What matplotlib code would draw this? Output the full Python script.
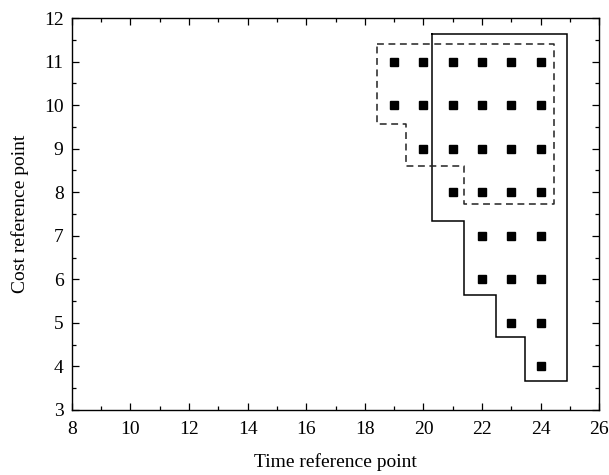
import matplotlib.pyplot as plt
from matplotlib.ticker import MultipleLocator

plt.rcParams["font.family"] = ["Liberation Serif", "DejaVu Serif"]

# reference points (time, cost)
time_points = [19, 20, 21, 22, 23, 24,
               19, 20, 21, 22, 23, 24,
               20, 21, 22, 23, 24,
               21, 22, 23, 24,
               22, 23, 24,
               22, 23, 24,
               23, 24,
               24]
cost_points = [11, 11, 11, 11, 11, 11,
               10, 10, 10, 10, 10, 10,
               9, 9, 9, 9, 9,
               8, 8, 8, 8,
               7, 7, 7,
               6, 6, 6,
               5, 5,
               4]

# solid region boundary
solid_x = [20.3, 24.9, 24.9, 23.47, 23.47, 22.49, 22.49, 21.39, 21.39, 20.3, 20.3]
solid_y = [11.63, 11.63, 3.66, 3.66, 4.67, 4.67, 5.65, 5.65, 7.34, 7.34, 11.63]

# dashed region boundary
dashed_x = [18.43, 24.45, 24.45, 21.38, 21.38, 19.42, 19.42, 18.43, 18.43]
dashed_y = [11.4, 11.4, 7.72, 7.72, 8.6, 8.6, 9.56, 9.56, 11.4]

fig = plt.figure(figsize=(6.09, 4.75), dpi=100)
ax = fig.add_axes([0.118, 0.137, 0.866, 0.825])

ax.plot(solid_x, solid_y, color="black", lw=1.1, solid_joinstyle="miter")
ax.plot(dashed_x, dashed_y, color="#222222", lw=1.1, dashes=(4.5, 3))
ax.plot(time_points, cost_points, ls="none", marker="s", ms=6.3,
        color="black")

ax.set_xlim(8, 26)
ax.set_ylim(3, 12)
ax.xaxis.set_major_locator(MultipleLocator(2))
ax.xaxis.set_minor_locator(MultipleLocator(1))
ax.yaxis.set_major_locator(MultipleLocator(1))
ax.yaxis.set_minor_locator(MultipleLocator(0.5))
ax.tick_params(which="both", direction="in", top=True, right=True,
               labelsize=14, width=0.9)
ax.tick_params(which="major", length=5)
ax.tick_params(axis="x", which="major", pad=8)
ax.tick_params(axis="y", which="major", pad=6)
ax.tick_params(which="minor", length=3)
for s in ax.spines.values():
    s.set_linewidth(1.0)

ax.set_xlabel("Time reference point", fontsize=14, labelpad=11)
ax.set_ylabel("Cost reference point", fontsize=14, labelpad=11)

fig.savefig("out.png", dpi=100)
